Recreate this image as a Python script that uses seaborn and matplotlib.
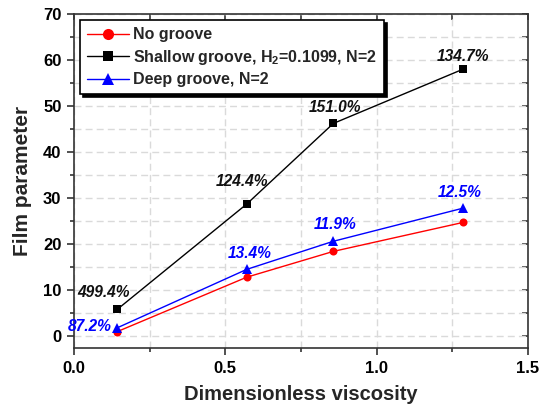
import numpy as np
import pandas as pd
import seaborn as sns
import matplotlib
matplotlib.use("Agg")
import matplotlib.pyplot as plt
from matplotlib.ticker import MultipleLocator

# Film parameter vs. dimensionless viscosity
viscosity = [0.143, 0.571, 0.857, 1.286]
no_groove = [0.97, 12.8, 18.4, 24.7]
shallow_groove = [5.8, 28.7, 46.2, 58.0]
deep_groove = [1.8, 14.5, 20.6, 27.8]

series_names = ["No groove", "Shallow groove, H$_\\mathbf{2}$=0.1099, N=2", "Deep groove, N=2"]
shallow_pct = ["499.4%", "124.4%", "151.0%", "134.7%"]
deep_pct = ["87.2%", "13.4%", "11.9%", "12.5%"]

sns.set_theme(style="white")
plt.rcParams["font.family"] = ["Liberation Sans", "DejaVu Sans"]
plt.rcParams["font.weight"] = "bold"
plt.rcParams["mathtext.fontset"] = "custom"
plt.rcParams["mathtext.rm"] = "Liberation Sans:bold"
plt.rcParams["mathtext.bf"] = "Liberation Sans:bold"

df = pd.DataFrame({
    "x": viscosity * 3,
    "y": no_groove + shallow_groove + deep_groove,
    "series": [series_names[0]] * 4 + [series_names[1]] * 4 + [series_names[2]] * 4,
})

fig = plt.figure(figsize=(5.42, 4.09), dpi=100)
ax = fig.add_axes([0.1365, 0.149, 0.8375, 0.817])

palette = {series_names[0]: "#ff0000", series_names[1]: "#000000", series_names[2]: "#0000ff"}
markers = {series_names[0]: "o", series_names[1]: "s", series_names[2]: "^"}
plot_sizes = {series_names[0]: 5.8, series_names[1]: 5.2, series_names[2]: 6.8}
legend_sizes = {series_names[0]: 8, series_names[1]: 7, series_names[2]: 9}

for name in series_names:
    sns.lineplot(data=df[df["series"] == name], x="x", y="y", color=palette[name],
                 marker=markers[name], markersize=plot_sizes[name], linewidth=1.0,
                 markeredgewidth=0, ax=ax, legend=False, zorder=3)

ax.set_xlim(0, 1.5)
ax.set_ylim(-2.6, 70)
ax.xaxis.set_major_locator(MultipleLocator(0.5))
ax.xaxis.set_minor_locator(MultipleLocator(0.25))
ax.yaxis.set_major_locator(MultipleLocator(10))
ax.yaxis.set_minor_locator(MultipleLocator(5))
ax.xaxis.set_major_formatter(matplotlib.ticker.FormatStrFormatter("%.1f"))

ax.grid(True, which="both", color="#dadada", linestyle=(0, (5, 3)), linewidth=1.0, zorder=0)
for s in ax.spines.values():
    s.set_color("#333333")
    s.set_linewidth(1.2)

ax.tick_params(axis="both", which="major", direction="out", length=5, width=1.2,
               colors="#333333", labelcolor="black", labelsize=12, pad=4)
ax.tick_params(axis="both", which="minor", direction="out", length=3, width=1.2, colors="#333333")
ax.tick_params(axis="both", bottom=True, left=True, top=False, right=False, which="both")
for lab in ax.get_xticklabels() + ax.get_yticklabels():
    lab.set_fontweight("bold")

# inward ticks on the opposite spines
sec_y = ax.secondary_yaxis("right")
sec_y.yaxis.set_major_locator(MultipleLocator(5))
sec_y.tick_params(direction="in", length=4, width=1.2, colors="#333333", labelright=False)
sec_y.spines["right"].set_visible(False)
sec_x = ax.secondary_xaxis("top")
sec_x.xaxis.set_major_locator(MultipleLocator(0.25))
sec_x.tick_params(direction="in", length=4, width=1.2, colors="#333333", labeltop=False)
sec_x.spines["top"].set_visible(False)

ax.set_xlabel("Dimensionless viscosity", fontsize=14.5, fontweight="bold", labelpad=7)
ax.set_ylabel("Film parameter", fontsize=15, fontweight="bold", labelpad=8)

px = 0.72
shallow_off = [(-14, 17), (-5, 22), (2, 16), (0, 13)]
deep_off = [(-28, 1), (3, 16), (2, 17), (-3, 16)]
for xv, yv, t, (dx, dy) in zip(viscosity, shallow_groove, shallow_pct, shallow_off):
    ax.annotate(t, (xv, yv), xytext=(dx * px, dy * px), textcoords="offset points",
                ha="center", va="center", fontsize=11.2, fontweight="bold",
                fontstyle="italic", color="#111111", zorder=5)
for xv, yv, t, (dx, dy) in zip(viscosity, deep_groove, deep_pct, deep_off):
    ax.annotate(t, (xv, yv), xytext=(dx * px, dy * px), textcoords="offset points",
                ha="center", va="center", fontsize=11.2, fontweight="bold",
                fontstyle="italic", color="#0000ff", zorder=5)

handles = [
    plt.Line2D([], [], color=palette[n], marker=markers[n], markersize=legend_sizes[n],
               markeredgewidth=0, linewidth=1.0)
    for n in series_names
]
leg = ax.legend(handles, series_names, loc="upper left", bbox_to_anchor=(0.013, 0.982),
                borderaxespad=0, frameon=True, fancybox=False,
                shadow={"color": "black", "alpha": 1.0},
                prop={"weight": "bold", "size": 11.5}, handlelength=2.6,
                handletextpad=0.3, labelspacing=0.35, borderpad=0.45)
leg.get_frame().set_edgecolor("black")
leg.get_frame().set_linewidth(1.2)
leg.set_zorder(6)

fig.savefig("out.png", dpi=100)
